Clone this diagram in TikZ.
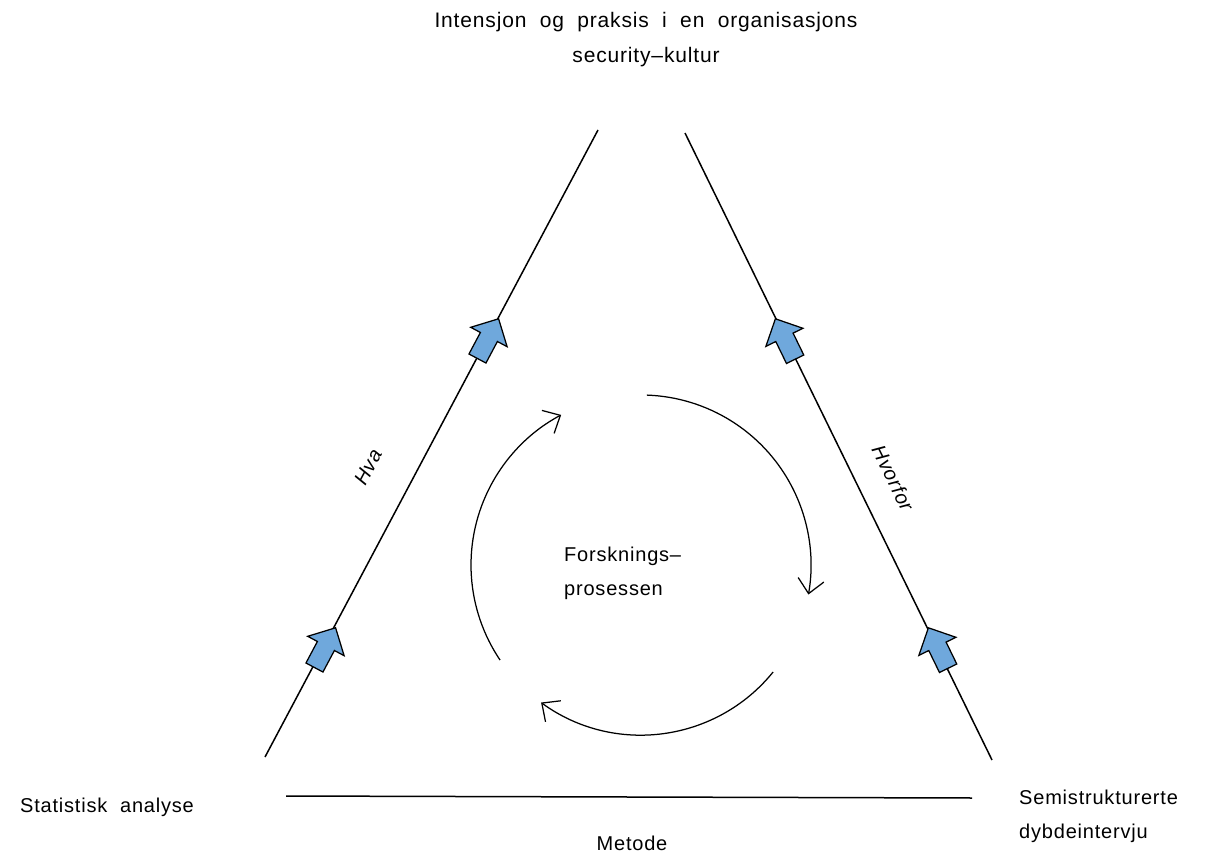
\documentclass[tikz,border=0pt]{standalone}
\usepackage{fontspec}
\setmainfont{Liberation Sans}[LetterSpace=4]
\usetikzlibrary{shapes.arrows,arrows.meta}
\definecolor{flowblue}{RGB}{111,168,220}

\begin{document}
\begin{tikzpicture}
[every node/.style={inner sep=0pt, font=\fontsize{20}{34}\selectfont},
 flow/.style={single arrow, draw=black, fill=flowblue, line width=1.25pt, minimum height=45pt, inner xsep=12pt, inner ysep=9pt, single arrow head extend=11pt, anchor=tip},
 side/.style={line width=1.5pt, color=black},
 circ/.style={line width=1.25pt, color=black, -{Straight Barb[length=14pt,width=26pt]}}]
\useasboundingbox (0pt, 0pt) rectangle (1205pt, -853pt);
% the three corners
\coordinate (ltop) at (598pt, -130pt);
\coordinate (lbot) at (265pt, -757pt);
\coordinate (rtop) at (685pt, -133pt);
\coordinate (rbot) at (992pt, -760pt);
\coordinate (bl) at (286pt, -796pt);
\coordinate (br) at (972pt, -798pt);
\coordinate (c) at (641pt, -565pt);
\draw [side] (lbot) to (ltop);
\draw [side] (rbot) to (rtop);
\draw [side] (bl) to (br);
\node (a1) [flow, rotate=62] at (336pt, -627pt) {};
\node (a2) [flow, rotate=62] at (499pt, -318pt) {};
\node (a3) [flow, rotate=116] at (928pt, -627pt) {};
\node (a4) [flow, rotate=116] at (775pt, -318pt) {};
% research cycle
\draw [circ] ([shift={(88:170pt)}]c) arc [start angle=88, end angle=-10, radius=170pt];
\draw [circ] ([shift={(-39:170pt)}]c) arc [start angle=-39, end angle=-126, radius=170pt];
\draw [circ] ([shift={(214:170pt)}]c) arc [start angle=214, end angle=118, radius=170pt];
% labels
\node (top) [align=center, font=\fontsize{21}{35}\selectfont] at (646pt, -40pt) {Intensjon\ \ og\ \ praksis\ \ i\ \ en\ \ organisasjons\\security--kultur};
\node (hva) [rotate=62] at (368pt, -467pt) {\itshape Hva};
\node (hvorfor) [rotate=-64] at (893pt, -478pt) {\itshape Hvorfor};
\node (fp) [align=left, anchor=west] at (564pt, -573pt) {Forsknings--\\prosessen};
\node (stat) at (107pt, -807pt) {Statistisk\ \ analyse};
\node (met) at (632pt, -843pt) {Metode};
\node (semi) [align=left, anchor=west] at (1019pt, -816pt) {Semistrukturerte\\dybdeintervju};
\end{tikzpicture}
\end{document}
